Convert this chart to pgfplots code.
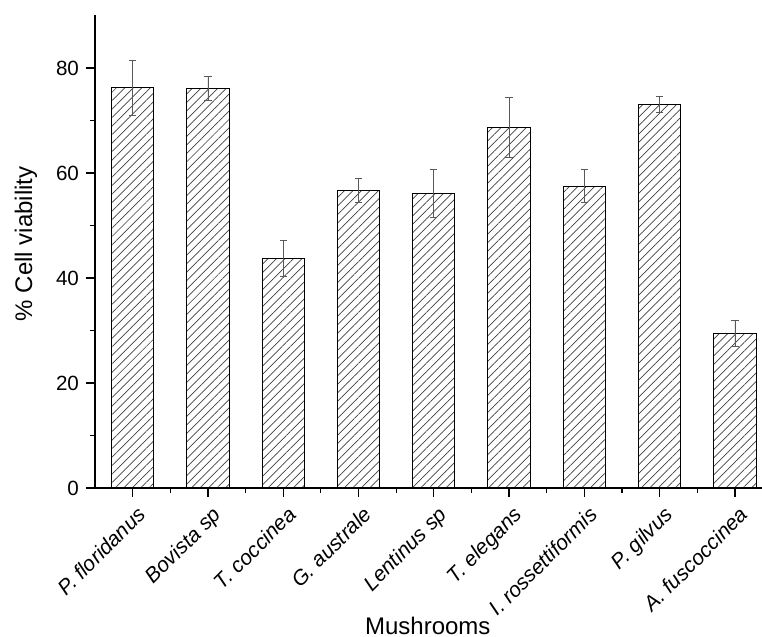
\documentclass[border=0pt]{standalone}
\usepackage{fontspec}
\setmainfont{Liberation Sans}
\usepackage{pgfplots}
\usepackage{pgfplotstable}
\pgfplotsset{compat=1.18}
\usetikzlibrary{patterns.meta}

\pgfplotstableread{
x y err
0 76.2 5.3
1 76.1 2.3
2 43.7 3.4
3 56.6 2.3
4 56.1 4.5
5 68.6 5.7
6 57.5 3.1
7 73.1 1.5
8 29.5 2.5
}\data

\begin{document}
\begin{tikzpicture}
\begin{axis}[
  scale only axis,
  width=338.8pt, height=236.3pt,
  xmin=-0.5, xmax=8.5, ymin=0, ymax=90,
  axis x line*=bottom, axis y line*=left,
  axis line style={line width=0.8pt},
  ytick={0,20,40,60,80}, minor ytick={10,30,50,70},
  xtick={0,...,8}, minor xtick={0.5,1.5,...,7.5},
  xticklabels={P. floridanus, Bovista sp, T. coccinea, G. australe, Lentinus sp, T. elegans, I. rossettiformis, P. gilvus, A. fuscoccinea},
  tick align=outside,
  major tick length=4.5pt, minor tick length=2.5pt,
  tick style={black, line width=0.6pt},
  xticklabel style={rotate=45, anchor=north east, inner sep=1.5pt, yshift=-2.5pt, font=\itshape\fontsize{10.5}{12}\selectfont},
  yticklabel style={font=\fontsize{10.3}{12}\selectfont},
  /pgf/number format/assume math mode=true,
  ylabel={\% Cell viability}, xlabel={Mushrooms},
  label style={font=\fontsize{12}{14}\selectfont},
  xlabel style={at={(axis description cs:0.5,0)}, anchor=base, yshift=-73.4pt, xshift=-3pt},
  ylabel style={at={(axis description cs:0,0.5)}, anchor=center, yshift=34.5pt, xshift=4pt},
]
\addplot[ybar, bar width=0.56, draw=black, line width=0.5pt,
  pattern={Lines[angle=45,distance=3pt,line width=0.35pt]}, pattern color=black!75,
  error bars/.cd, y dir=both, y explicit,
  error bar style={gray!70!black, line width=0.4pt},
  error mark options={rotate=90, mark size=1.8pt, gray!70!black, line width=0.4pt}]
  table[x=x, y=y, y error=err]{\data};
\end{axis}
\pgfresetboundingbox
\path (-47.5pt,-74.5pt) rectangle (333.5pt,244pt);
\end{tikzpicture}
\end{document}
